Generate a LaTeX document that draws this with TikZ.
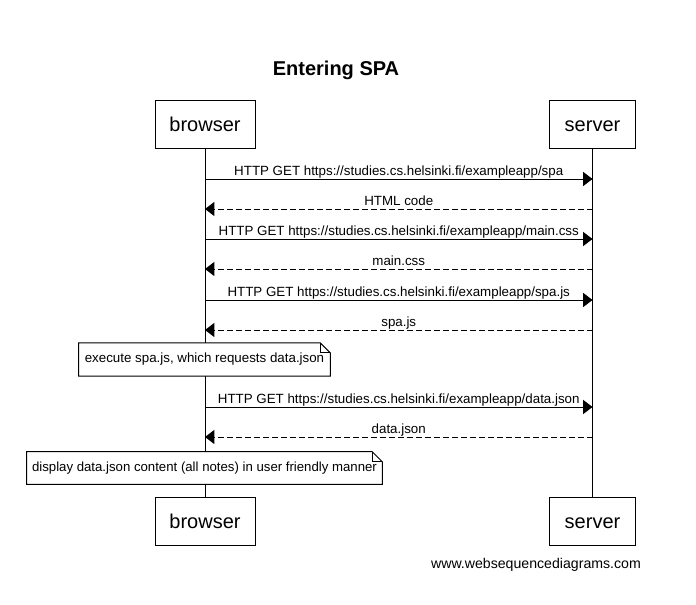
\documentclass[tikz,border=0pt]{standalone}
\usepackage{fontspec}
\setmainfont{Liberation Sans}
\usetikzlibrary{arrows.meta}
\begin{document}
\begin{tikzpicture}[x=0.75pt,y=-0.75pt,
  actor/.style={draw=black,line width=0.75pt,fill=white,minimum height=36pt,inner sep=0pt,text height=13pt,text depth=2.2pt,font=\fontsize{15}{18}\selectfont},
  life/.style={line width=0.75pt},
  req/.style={line width=0.75pt,-{Triangle[length=7pt,width=10.5pt]}},
  resp/.style={req,dash pattern=on 4.5pt off 2.25pt},
  lbl/.style={font=\fontsize{10}{12}\selectfont,inner sep=0pt,anchor=base},
  notebox/.style={inner sep=0pt,minimum height=24.5pt,font=\fontsize{10}{12}\selectfont},
  noteline/.style={line width=0.75pt,fill=white}
]
\useasboundingbox (0,0) rectangle (696,604);
\node[font=\bfseries\fontsize{15}{18}\selectfont] (title) at (336,70) {Entering SPA};

\node[actor,minimum width=75pt] (bt) at (205,124) {browser};
\node[actor,minimum width=65pt] (st) at (592.5,124) {server};
\node[actor,minimum width=75pt] (bb) at (205,521.5) {browser};
\node[actor,minimum width=65pt] (sb) at (592.5,521.5) {server};
\draw[life] (bt.south) -- (bb.north);
\draw[life] (st.south) -- (sb.north);

% messages
\foreach \y/\kind/\txt [count=\i] in {
  179/req/{HTTP GET https://studies.cs.helsinki.fi/exampleapp/spa},
  209/resp/{HTML code},
  239/req/{HTTP GET https://studies.cs.helsinki.fi/exampleapp/main.css},
  269/resp/{main.css},
  300/req/{HTTP GET https://studies.cs.helsinki.fi/exampleapp/spa.js},
  330/resp/{spa.js},
  407/req/{HTTP GET https://studies.cs.helsinki.fi/exampleapp/data.json},
  437/resp/{data.json}}
{
  \coordinate (b\i) at (bt.south |- 0,\y);
  \coordinate (s\i) at (st.south |- 0,\y);
  \ifnum\pdfstrcmp{\kind}{req}=0
    \draw[req] (b\i) -- (s\i) node[lbl,midway,yshift=3pt] {\txt};
  \else
    \draw[resp] (s\i) -- (b\i) node[lbl,midway,yshift=3pt] {\txt};
  \fi
}

% notes
\node[notebox,minimum width=188.25pt] (n1) at (204.5,359.5) {};
\draw[noteline] (n1.south west) -- (n1.north west) -- ([xshift=-7.5pt]n1.north east) -- ([yshift=-7.5pt]n1.north east) -- (n1.south east) -- cycle;
\draw[line width=0.75pt] ([xshift=-7.5pt]n1.north east) -- ([xshift=-7.5pt,yshift=-7.5pt]n1.north east) -- ([yshift=-7.5pt]n1.north east);
\node[notebox] at (n1) {execute spa.js, which requests data.json};

\node[notebox,minimum width=266.25pt,minimum height=24pt] (n2) at (204.5,468) {};
\draw[noteline] (n2.south west) -- (n2.north west) -- ([xshift=-7.5pt]n2.north east) -- ([yshift=-7.5pt]n2.north east) -- (n2.south east) -- cycle;
\draw[line width=0.75pt] ([xshift=-7.5pt]n2.north east) -- ([xshift=-7.5pt,yshift=-7.5pt]n2.north east) -- ([yshift=-7.5pt]n2.north east);
\node[notebox,font=\fontsize{9.9}{12}\selectfont] at (n2) {display data.json content (all notes) in user friendly manner};

\node[font=\fontsize{10.6}{12}\selectfont] (footer) at (536,565) {www.websequencediagrams.com};
\end{tikzpicture}
\end{document}
